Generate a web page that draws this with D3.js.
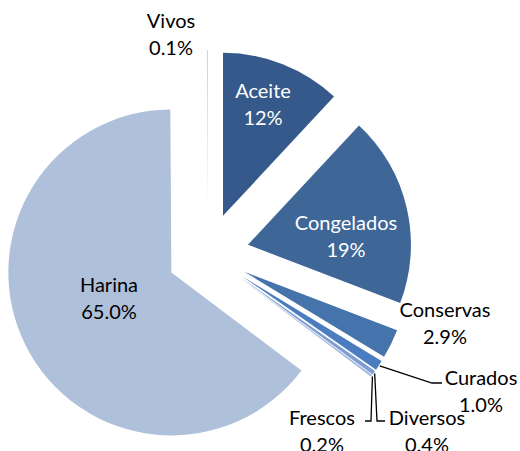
<!DOCTYPE html>
<html>
<head>
<meta charset="utf-8">
<script src="https://cdn.jsdelivr.net/npm/d3@7"></script>
<style>
html,body{margin:0;padding:0;background:#fff;}
svg text{font-family:Lato,"Open Sans",sans-serif;}
</style>
</head>
<body>
<svg id="chart" width="520" height="451"></svg>
<script>
// ---- data ----
const categories = ["Aceite","Congelados","Conservas","Curados","Diversos","Frescos","Harina","Vivos"];
const values = [12, 19, 2.9, 1.0, 0.4, 0.2, 65.0, 0.1];
const percentLabels = ["12%","19%","2.9%","1.0%","0.4%","0.2%","65.0%","0.1%"];
const colors = ["#35598a","#3e6697","#4573ac","#4b7cbf","#7f9fd2","#a6bbe0","#afc0da","#c5d3e8"];

// ---- layout ----
const cx = 208, cy = 254, R = 163, explode = 41;

// label anchor (centre x, first baseline) relative to pie centre, and text colour
const labelLayout = {
  "Aceite":     {dx: 55,  dy: -156, fill: "#ffffff"},
  "Congelados": {dx: 138, dy: -24,  fill: "#ffffff"},
  "Conservas":  {dx: 237, dy: 63,   fill: "#000000"},
  "Curados":    {dx: 273, dy: 131,  fill: "#000000"},
  "Diversos":   {dx: 219, dy: 171,  fill: "#000000"},
  "Frescos":    {dx: 114, dy: 171,  fill: "#000000"},
  "Harina":     {dx: -99, dy: 38,   fill: "#000000"},
  "Vivos":      {dx: -37, dy: -226, fill: "#000000"}
};
// leader lines: elbow and end points relative to label anchor
const leaders = {
  "Curados":  {elbow: [-49, -2], end: [-39, -2]},
  "Diversos": {elbow: [-50, -4], end: [-42, -4]},
  "Frescos":  {elbow: [49, -4],  end: [43, -4]}
};

const svg = d3.select("#chart");
const g = svg.append("g").attr("transform", `translate(${cx},${cy})`);

const pie = d3.pie().sort(null).value(d => d.v).startAngle(0).endAngle(2*Math.PI);
const arcs = pie(categories.map((c,i) => ({c, v: values[i], p: percentLabels[i], col: colors[i]})));
const arc = d3.arc().innerRadius(0).outerRadius(R);

function polar(angRad, r){ return [r*Math.sin(angRad), -r*Math.cos(angRad)]; }

g.selectAll("path.slice").data(arcs).join("path")
  .attr("class","slice")
  .attr("d", arc)
  .attr("fill", d => d.data.col)
  .attr("transform", d => {
    const m = (d.startAngle + d.endAngle)/2;
    const [dx,dy] = polar(m, explode);
    return `translate(${dx},${dy})`;
  });

// labels
const fs = 20, lh = 26.5;
arcs.forEach(d => {
  const L = labelLayout[d.data.c];
  const lx = L.dx, ly = L.dy;
  const t = g.append("text")
    .attr("text-anchor","middle")
    .attr("font-size", fs)
    .attr("fill", L.fill);
  t.append("tspan").attr("x", lx).attr("y", ly).text(d.data.c);
  t.append("tspan").attr("x", lx).attr("y", ly + lh).text(d.data.p);

  const ld = leaders[d.data.c];
  if (ld) {
    const m = (d.startAngle + d.endAngle)/2;
    const [sx, sy] = polar(m, explode + R + 1);
    const pts = [[sx, sy], [lx+ld.elbow[0], ly+ld.elbow[1]], [lx+ld.end[0], ly+ld.end[1]]];
    g.append("path")
      .attr("d", d3.line()(pts))
      .attr("fill","none")
      .attr("stroke","#000")
      .attr("stroke-width",1.3);
  }
});
</script>
</body>
</html>
